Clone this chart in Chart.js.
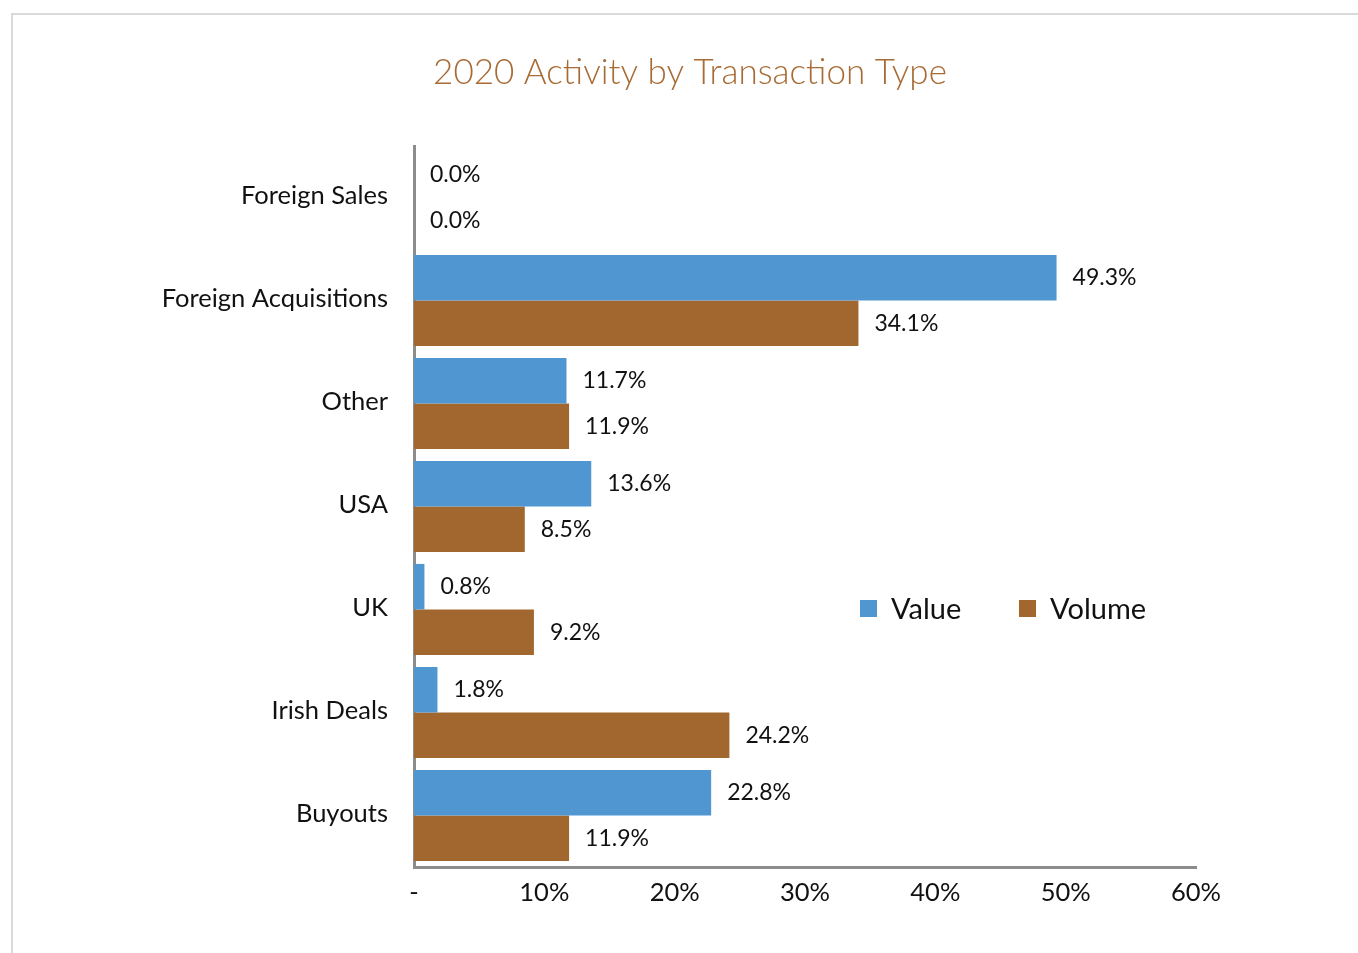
<!DOCTYPE html>
<html>
<head>
<meta charset="utf-8">
<script src="https://cdn.jsdelivr.net/npm/chart.js@4"></script>
<style>
  html, body { margin:0; padding:0; background:#fff; }
  #wrap { position:relative; width:1358px; height:953px; overflow:hidden; }
  #frame { position:absolute; left:11px; top:13px; right:-4px; bottom:-4px; border-left:2px solid #dadada; border-top:2px solid #dadada; }
  #chart { position:absolute; left:0; top:0; }
</style>
</head>
<body>
<div id="wrap">
  <div id="frame"></div>
  <canvas id="chart" width="1358" height="953"></canvas>
</div>
<script>
// ---- Datos
const categories = ['Foreign Sales', 'Foreign Acquisitions', 'Other', 'USA', 'UK', 'Irish Deals', 'Buyouts'];
const valueShare = [0.0, 49.3, 11.7, 13.6, 0.8, 1.8, 22.8];
const volumeShare = [0.0, 34.1, 11.9, 8.5, 9.2, 24.2, 11.9];
const xTicks = [0, 10, 20, 30, 40, 50, 60];
const chartTitle = '2020 Activity by Transaction Type';

const FONT = 'Lato, "Open Sans", sans-serif';
const BLUE = '#5096d1';
const BROWN = '#a2672f';

// ---- Titulo (centrado sobre el marco, no sobre el area del grafico)
const topTitle = {
  id: 'topTitle',
  afterDraw(chart){
    const ctx = chart.ctx;
    ctx.save();
    ctx.font = '300 35px ' + FONT;
    ctx.fillStyle = '#a86b35';
    ctx.textAlign = 'center';
    ctx.textBaseline = 'middle';
    ctx.fillText(chartTitle, 690, 73);
    ctx.restore();
  }
};

// ---- Etiquetas de valor al final de cada barra
const barLabels = {
  id: 'barLabels',
  afterDatasetsDraw(chart){
    const ctx = chart.ctx;
    ctx.save();
    ctx.font = '23px ' + FONT;
    ctx.fillStyle = '#111';
    ctx.textAlign = 'left';
    ctx.textBaseline = 'middle';
    chart.data.datasets.forEach((ds, i) => {
      chart.getDatasetMeta(i).data.forEach((bar, j) => {
        ctx.fillText(ds.data[j].toFixed(1) + '%', bar.x + 16, bar.y);
      });
    });
    ctx.restore();
  }
};

// ---- Leyenda dentro del area del grafico
const innerLegend = {
  id: 'innerLegend',
  afterDraw(chart){
    const ctx = chart.ctx;
    const a = chart.chartArea;
    let x = a.left + 446;
    const y = a.top + 463;
    ctx.save();
    ctx.font = '29px ' + FONT;
    ctx.textBaseline = 'middle';
    chart.data.datasets.forEach(ds => {
      ctx.fillStyle = ds.backgroundColor;
      ctx.fillRect(x, y - 9, 17, 17);
      ctx.fillStyle = '#111';
      ctx.fillText(ds.label, x + 31, y + 1);
      x += 159;
    });
    ctx.restore();
  }
};

new Chart(document.getElementById('chart'), {
  type: 'bar',
  data: {
    labels: categories,
    datasets: [
      { label: 'Value', data: valueShare, backgroundColor: BLUE },
      { label: 'Volume', data: volumeShare, backgroundColor: BROWN }
    ]
  },
  options: {
    indexAxis: 'y',
    responsive: false,
    animation: false,
    categoryPercentage: 0.885,
    barPercentage: 1.0,
    layout: { padding: { left: 0, right: 162, top: 146, bottom: 0 } },
    scales: {
      x: {
        min: 0, max: 60,
        afterBuildTicks: s => { s.ticks = xTicks.map(v => ({ value: v })); },
        afterFit: s => { s.height = 86; },
        grid: { display: false, drawTicks: false },
        border: { display: true, color: '#8c8c8c', width: 3 },
        ticks: {
          padding: 10,
          color: '#111',
          font: { family: FONT, size: 25.5 },
          callback: v => v === 0 ? '-' : v + '%'
        }
      },
      y: {
        afterFit: s => { s.width = 414; },
        grid: { display: false, drawTicks: false },
        border: { display: true, color: '#8c8c8c', width: 3 },
        ticks: {
          padding: 26,
          labelOffset: -2,
          color: '#111',
          font: { family: FONT, size: 25.5 }
        }
      }
    },
    plugins: {
      legend: { display: false },
      tooltip: { enabled: false },
      title: { display: false }
    }
  },
  plugins: [barLabels, innerLegend, topTitle]
});
</script>
</body>
</html>
